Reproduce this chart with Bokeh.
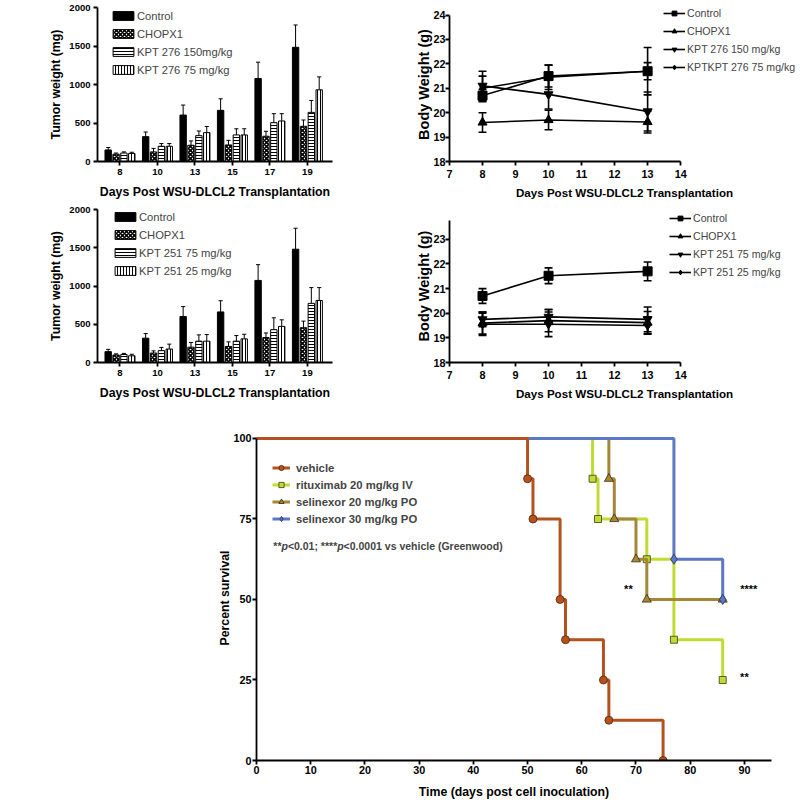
from bokeh.plotting import figure
from bokeh.layouts import column, row
from bokeh.models import Range1d, FixedTicker, Label, Legend, LegendItem, ColumnDataSource
from bokeh.core.properties import value
from bokeh.embed import file_html
from bokeh.resources import INLINE

FONT = "Liberation Sans"

# ---------------- Panel A data (tumor weight, mg) ----------------
days_a = ["8", "10", "13", "15", "17", "19"]
a_yticks = [0, 500, 1000, 1500, 2000]

a1_groups = ["Control", "CHOPX1", "KPT 276 150mg/kg", "KPT 276 75 mg/kg"]
a1_control = [150, 323, 603, 664, 1078, 1483]
a1_control_err = [32, 60, 130, 150, 212, 290]
a1_chop = [95, 125, 211, 215, 328, 457]
a1_chop_err = [15, 45, 56, 60, 64, 82]
a1_kpt150 = [110, 198, 336, 345, 504, 638]
a1_kpt150_err = [15, 35, 60, 80, 117, 155]
a1_kpt75 = [105, 198, 375, 345, 526, 931]
a1_kpt75_err = [15, 35, 80, 80, 95, 168]

a2_groups = ["Control", "CHOPX1", "KPT 251 75 mg/kg", "KPT 251 25 mg/kg"]
a2_control = [142, 318, 601, 661, 1073, 1481]
a2_control_err = [30, 60, 130, 146, 206, 274]
a2_chop = [98, 124, 200, 210, 326, 455]
a2_chop_err = [15, 28, 62, 60, 60, 86]
a2_kpt75 = [104, 155, 279, 279, 429, 773]
a2_kpt75_err = [15, 42, 82, 73, 155, 206]
a2_kpt25 = [88, 176, 279, 309, 472, 811]
a2_kpt25_err = [20, 64, 86, 60, 86, 168]

# ---------------- Panel B data (body weight, g) ----------------
days_b = [8, 10, 13]
b_xticks = [7, 8, 9, 10, 11, 12, 13, 14]

b1_labels = ["Control", "CHOPX1", "KPT 276 150 mg/kg", "KPTKPT 276 75 mg/kg"]
b1_control = [20.7, 21.5, 21.7]
b1_control_err = [0.25, 0.45, 0.97]
b1_chop = [19.6, 19.7, 19.62]
b1_chop_err = [0.4, 0.4, 0.45]
b1_kpt150 = [21.1, 20.75, 20.05]
b1_kpt150_err = [0.6, 0.6, 0.8]
b1_kpt75 = [21.0, 21.45, 21.7]
b1_kpt75_err = [0.5, 0.5, 0.35]
b1_yticks = [18, 19, 20, 21, 22, 23, 24]

b2_labels = ["Control", "CHOPX1", "KPT 251 75 mg/kg", "KPT 251 25 mg/kg"]
b2_control = [20.7, 21.52, 21.7]
b2_control_err = [0.3, 0.32, 0.38]
b2_chop = [19.6, 19.7, 19.62]
b2_chop_err = [0.45, 0.45, 0.45]
b2_kpt75 = [19.75, 19.85, 19.75]
b2_kpt75_err = [0.3, 0.3, 0.5]
b2_kpt25 = [19.55, 19.55, 19.5]
b2_kpt25_err = [0.45, 0.5, 0.35]
b2_yticks = [18, 19, 20, 21, 22, 23]

# ---------------- Panel C data (survival, %) ----------------
c_labels = ["vehicle", "rituximab 20 mg/kg IV", "selinexor 20 mg/kg PO", "selinexor 30 mg/kg PO"]
veh_t = [0, 50, 51, 56, 57, 64, 65, 75]
veh_s = [100, 87.5, 75, 50, 37.5, 25, 12.5, 0]
rit_t = [0, 62, 63, 72, 77, 86]
rit_s = [100, 87.5, 75, 62.5, 37.5, 25]
s20_t = [0, 65, 66, 70, 72, 86]
s20_s = [100, 87.5, 75, 62.5, 50, 50]
s30_t = [0, 77, 86]
s30_s = [100, 62.5, 50]
c_xticks = [0, 10, 20, 30, 40, 50, 60, 70, 80, 90]
c_yticks = [0, 25, 50, 75, 100]
sig_text = ["**", "****", "**"]
sig_x = [68.6, 90.8, 90.0]
sig_y = [53.3, 53.3, 25.8]
pnote_pieces = ["**", "p", "<0.01; ****", "p", "<0.0001 vs vehicle (Greenwood)"]
pnote_italic = [False, True, False, True, False]


def style(p, tick_fs, title_fs, lw=1.8, tick_standoff=3, title_standoff=3):
    p.xgrid.grid_line_color = None
    p.ygrid.grid_line_color = None
    p.outline_line_color = None
    p.background_fill_color = "white"
    p.border_fill_color = "white"
    for ax in p.axis:
        ax.axis_line_width = lw
        ax.axis_line_color = "black"
        ax.major_tick_line_width = lw
        ax.major_tick_line_color = "black"
        ax.major_tick_out = 4
        ax.major_tick_in = 0
        ax.minor_tick_line_color = None
        ax.major_label_text_font = FONT
        ax.major_label_text_font_style = "bold"
        ax.major_label_text_font_size = tick_fs
        ax.major_label_text_color = "black"
        ax.major_label_standoff = tick_standoff
        ax.axis_label_text_font = FONT
        ax.axis_label_text_font_style = "bold"
        ax.axis_label_text_font_size = title_fs
        ax.axis_label_text_color = "black"
        ax.axis_label_standoff = title_standoff


def make_legend(items, loc, fs, gw, gh, lh, spacing, standoff, bold=False):
    return Legend(items=items, location=loc, padding=0, margin=0, spacing=spacing,
                  glyph_width=gw, glyph_height=gh, label_height=lh, label_standoff=standoff,
                  label_text_font=FONT, label_text_font_size=fs,
                  label_text_font_style="bold" if bold else "normal",
                  border_line_color=None, background_fill_alpha=0)


def bar_panel(groups, series, errs, top_b, bot_b, leg_loc):
    p = figure(width=400, height=201, x_range=Range1d(-0.6, 5.67), y_range=Range1d(0, 2000),
               min_border_left=97, min_border_right=68, min_border_top=top_b, min_border_bottom=bot_b,
               output_backend="svg", toolbar_location=None)
    offsets = [-0.315, -0.105, 0.105, 0.315]
    styles = [
        dict(fill_color="black"),
        dict(fill_color="white", hatch_pattern="diagonal_cross", hatch_scale=4, hatch_weight=1.6, hatch_color="black"),
        dict(fill_color="white", hatch_pattern="horizontal_line", hatch_scale=3, hatch_weight=1, hatch_color="black"),
        dict(fill_color="white", hatch_pattern="vertical_line", hatch_scale=3, hatch_weight=1, hatch_color="black"),
    ]
    idx = list(range(len(days_a)))
    items = []
    for g, v, e, off, st in zip(groups, series, errs, offsets, styles):
        xs = [i + off for i in idx]
        tops = [a + b for a, b in zip(v, e)]
        p.segment(x0=xs, y0=v, x1=xs, y1=tops, line_color="black", line_width=1)
        p.segment(x0=[x - 0.055 for x in xs], y0=tops, x1=[x + 0.055 for x in xs], y1=tops,
                  line_color="black", line_width=1)
        r = p.vbar(x=xs, top=v, bottom=0, width=0.17, line_color="black", line_width=1, **st)
        items.append(LegendItem(label=g, renderers=[r]))
    style(p, "9.5px", "12.3px", tick_standoff=3, title_standoff=3)
    p.xaxis.axis_label_standoff = 7
    p.xaxis.ticker = FixedTicker(ticks=idx)
    p.xaxis.major_label_overrides = {i: d for i, d in zip(idx, days_a)}
    p.yaxis.ticker = FixedTicker(ticks=a_yticks)
    p.xaxis.axis_label = "Days Post WSU-DLCL2 Transplantation"
    p.yaxis.axis_label = "Tumor weight (mg)"
    p.add_layout(make_legend(items, leg_loc, "11.2px", 26, 11, 13, 5, 1))
    return p


def line_panel(labels, series, errs, yr, ybounds, yticks, top_b, leg_loc):
    p = figure(width=399, height=201, x_range=Range1d(7, 17.6), y_range=Range1d(*yr),
               min_border_left=49, min_border_right=0, min_border_top=top_b, min_border_bottom=37,
               output_backend="svg", toolbar_location=None)
    markers = ["square", "triangle", "inverted_triangle", "diamond"]
    msizes = [9, 9, 9, 9]
    items = []
    for lab, v, e, m, ms in zip(labels, series, errs, markers, msizes):
        lo = [a - b for a, b in zip(v, e)]
        hi = [a + b for a, b in zip(v, e)]
        p.segment(x0=days_b, y0=lo, x1=days_b, y1=hi, line_color="black", line_width=1.6)
        for yy in (lo, hi):
            p.segment(x0=[d - 0.12 for d in days_b], y0=yy, x1=[d + 0.12 for d in days_b], y1=yy,
                      line_color="black", line_width=1.6)
        lr = p.line(days_b, v, line_color="black", line_width=1.6)
        sr = p.scatter(days_b, v, marker=m, size=ms, fill_color="black", line_color="black")
        items.append(LegendItem(label=lab, renderers=[lr, sr]))
    style(p, "10.8px", "11.6px", tick_standoff=4, title_standoff=5)
    p.yaxis.major_label_standoff = 0
    p.yaxis.axis_label_standoff = -2
    p.xaxis.bounds = (7, 14)
    p.yaxis.bounds = ybounds
    p.xaxis.ticker = FixedTicker(ticks=b_xticks)
    p.yaxis.ticker = FixedTicker(ticks=yticks)
    p.xaxis.axis_label = "Days Post WSU-DLCL2 Transplantation"
    p.yaxis.axis_label = "Body Weight (g)"
    p.yaxis.axis_label_text_font_size = "14.5px"
    p.add_layout(make_legend(items, leg_loc, "10.6px", 22, 12, 12, 6, 2))
    return p


a_top = bar_panel(a1_groups, [a1_control, a1_chop, a1_kpt150, a1_kpt75],
                  [a1_control_err, a1_chop_err, a1_kpt150_err, a1_kpt75_err], 7, 39, (13, 85))
a_bot = bar_panel(a2_groups, [a2_control, a2_chop, a2_kpt75, a2_kpt25],
                  [a2_control_err, a2_chop_err, a2_kpt75_err, a2_kpt25_err], 8, 38, (15, 85))

a_top.add_layout(Label(x=-2.92, y=1806, text="A", text_font=FONT, text_font_style="bold",
                       text_font_size="20px", text_align="center", text_baseline="middle"))
a_top.add_layout(Label(x=6.63, y=1832, text="B", text_font=FONT, text_font_style="bold",
                       text_font_size="20px", text_align="center", text_baseline="middle"))

b_top = line_panel(b1_labels, [b1_control, b1_chop, b1_kpt150, b1_kpt75],
                   [b1_control_err, b1_chop_err, b1_kpt150_err, b1_kpt75_err],
                   (18, 24.31), (18, 24), b1_yticks, 1, (214, 88))
b_bot = line_panel(b2_labels, [b2_control, b2_chop, b2_kpt75, b2_kpt25],
                   [b2_control_err, b2_chop_err, b2_kpt75_err, b2_kpt25_err],
                   (18, 24.21), (18, 23.75), b2_yticks, 2, (220, 84))

# ---------------- Panel C ----------------
c = figure(width=799, height=399, x_range=Range1d(0, 95), y_range=Range1d(0, 100.93),
           min_border_left=256, min_border_right=28, min_border_top=33, min_border_bottom=39,
           output_backend="svg", toolbar_location=None)

c_series = [
    (c_labels[1], rit_t, rit_s, "#C2DB33", "square", 7, "#3a3a10"),
    (c_labels[2], s20_t, s20_s, "#A4873A", "triangle", 9, "#3a2a08"),
    (c_labels[3], s30_t, s30_s, "#5B77C6", "diamond", 10, "#1e2f66"),
    (c_labels[0], veh_t, veh_s, "#B3521F", "circle", 8, "#5a2408"),
]
c_items = {}
for lab, t, s, col, m, ms, edge in c_series:
    lr = c.step(t, s, mode="after", line_color=col, line_width=3)
    sr = c.scatter(t[1:], s[1:], marker=m, size=ms, fill_color=col, line_color=edge, line_width=0.8)
    c_items[lab] = LegendItem(label=lab, renderers=[lr, sr])

style(c, "10.8px", "12.3px", lw=1.8, tick_standoff=1, title_standoff=-2)
c.xaxis.axis_label_standoff = 8
c.yaxis.bounds = (0, 100)
c.xaxis.ticker = FixedTicker(ticks=c_xticks)
c.yaxis.ticker = FixedTicker(ticks=c_yticks)
c.xaxis.axis_label = "Time (days post cell inoculation)"
c.yaxis.axis_label = "Percent survival"
c.add_layout(make_legend([c_items[l] for l in c_labels], (16, 235), "11.3px", 18, 13, 13, 4, 6, bold=True))

sig_src = ColumnDataSource(dict(x=sig_x, y=sig_y, t=sig_text))
c.text(x="x", y="y", text="t", source=sig_src, text_font=value(FONT), text_font_style="bold",
       text_font_size="11px", text_align="center", text_baseline="middle", text_color="black")

# p-value note built from pieces (italic p)
BW = {"*": 0.389, "p": 0.611, "<": 0.584, "0": 0.556, "1": 0.556, ".": 0.278, ";": 0.333, " ": 0.278}
fs_note = 10.5
off = 0.0
for piece, it in zip(pnote_pieces, pnote_italic):
    c.add_layout(Label(x=3.1, y=66.7, x_offset=off, text=piece, text_font=FONT,
                       text_font_style="bold italic" if it else "bold", text_font_size=f"{fs_note}px",
                       text_baseline="middle", text_align="left"))
    off += sum(BW.get(ch, 0.556) for ch in piece) * fs_note

c.add_layout(Label(x=-6.27, y=95.4, text="C", text_font=FONT, text_font_style="bold",
                   text_font_size="20px", text_align="center", text_baseline="middle"))

layout = column(row(a_top, b_top), row(a_bot, b_bot), c)
open("out.html", "w").write(file_html(layout, INLINE))
